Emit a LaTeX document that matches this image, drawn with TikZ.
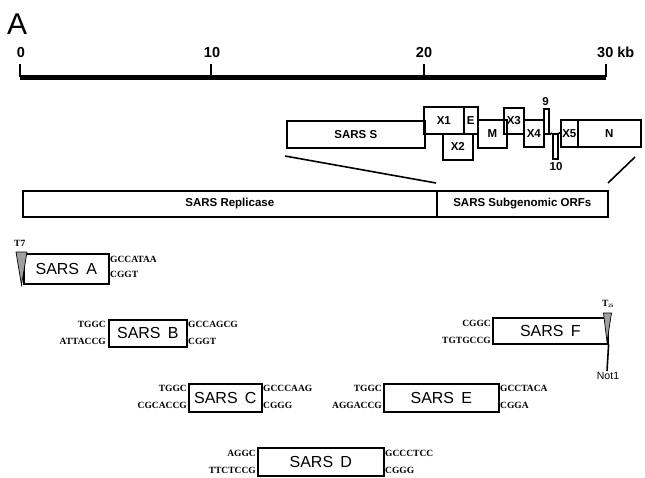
\documentclass[tikz,border=0pt]{standalone}
\usepackage{fontspec}
\setmainfont{Liberation Sans}
\newfontfamily\seqfont{Liberation Serif}
\begin{document}
\begin{tikzpicture}[x=1pt,y=-1pt,
  gbox/.style={draw, line width=1.6pt, inner sep=0pt, anchor=north west, font=\bfseries\fontsize{11.5}{11.5}\selectfont},
  fbox/.style={draw, line width=1.6pt, inner sep=0pt, anchor=north west, font=\fontsize{16}{16}\selectfont},
  seq/.style={inner sep=0pt, font=\seqfont\bfseries\fontsize{9.5}{9.5}\selectfont},
  seqL/.style={seq, anchor=east},
  seqR/.style={seq, anchor=west},
  scalelab/.style={inner sep=0pt, anchor=base, font=\bfseries\fontsize{14.5}{14.5}\selectfont},
  zline/.style={line width=1.6pt},
  tri/.style={draw, line width=0.7pt, fill=gray!75}
]
\useasboundingbox (0,0) rectangle (645,477);

% panel label
\node[inner sep=0pt, anchor=base west, font=\fontsize{30}{30}\selectfont] (lblA) at (7,34) {A};

% scale bar
\coordinate (b0) at (20,77);
\coordinate (b10) at (211,77);
\coordinate (b20) at (424,77);
\coordinate (b30) at (606,77);
\coordinate (t0) at (20,64);
\coordinate (t10) at (211,64);
\coordinate (t20) at (424,64);
\coordinate (t30) at (606,64);
\draw[line width=5pt] (b0) -- (b30);
\draw[line width=1.6pt] (b0) -- (t0) (b10) -- (t10) (b20) -- (t20) (b30) -- (t30);
\node[scalelab] (s0) at (21,57) {0};
\node[scalelab] (s10) at (212,57) {10};
\node[scalelab] (s20) at (424,57) {20};
\node[scalelab, anchor=base west] (s30) at (597,57) {30 kb};

% gene boxes
\node[gbox, minimum width=138pt, minimum height=27pt] (S) at (286,120) {SARS S};
\node[gbox, minimum width=40pt, minimum height=27pt] (X1) at (423,106) {X1};
\node[gbox, minimum width=14pt, minimum height=27pt] (E) at (463,106) {E};
\node[gbox, minimum width=30pt, minimum height=26pt] (X2) at (442,133) {X2};
\node[gbox, minimum width=29pt, minimum height=28pt] (M) at (477,119) {M};
\node[gbox, minimum width=20pt, minimum height=26pt] (X3) at (503,107) {X3};
\node[gbox, minimum width=20pt, minimum height=27pt] (X4) at (523,119) {X4};
\node[gbox, minimum width=5pt, minimum height=25pt] (G9) at (543,108) {};
\node[gbox, minimum width=5pt, minimum height=25pt] (G10) at (552,133) {};
\node[gbox, minimum width=17pt, minimum height=27pt] (X5) at (560,119) {X5};
\node[gbox, minimum width=63pt, minimum height=27pt] (N) at (577,119) {N};
\node[inner sep=0pt, anchor=base, font=\bfseries\fontsize{11.5}{11.5}\selectfont] (l9) at (545.5,105) {9};
\node[inner sep=0pt, anchor=base, font=\bfseries\fontsize{11.5}{11.5}\selectfont] (l10) at (556,170) {10};
\draw[line width=1.6pt] (G9.south east) -- (G10.north west) (G10.north east) -- (X5.west |- G10.north);

% genome bar
\node[gbox, minimum width=414pt, minimum height=26pt] (Rep) at (22,190) {SARS Replicase};
\node[gbox, minimum width=171pt, minimum height=26pt] (Sub) at (436,190) {SARS Subgenomic ORFs};

% zoom lines
\coordinate (zl1) at (285,156);
\coordinate (zl2) at (436,183);
\coordinate (zr1) at (635,157);
\coordinate (zr2) at (608,183);
\draw[zline] (zl1) -- (zl2);
\draw[zline] (zr1) -- (zr2);

% fragment A
\node[fbox, minimum width=85pt, minimum height=30pt] (A) at (23,253) {SARS\hspace{0.45em}A};
\draw[tri] (16,252) -- (27,252) -- (21.5,285) -- cycle;
\node[seq, anchor=base west] (T7) at (14,246) {T7};
\node[seqR] (Ar1) at (110,259) {GCCATAA};
\node[seqR] (Ar2) at (110,274) {CGGT};

% fragment B
\node[fbox, minimum width=78pt, minimum height=27pt] (B) at (108,319) {SARS\hspace{0.45em}B};
\node[seqL] (Bl1) at (106,324) {TGGC};
\node[seqL] (Bl2) at (106,341) {ATTACCG};
\node[seqR] (Br1) at (188,324) {GCCAGCG};
\node[seqR] (Br2) at (188,341) {CGGT};

% fragment C
\node[fbox, minimum width=73pt, minimum height=28pt] (C) at (188,383) {SARS\hspace{0.45em}C};
\node[seqL] (Cl1) at (187,388) {TGGC};
\node[seqL] (Cl2) at (187,405) {CGCACCG};
\node[seqR] (Cr1) at (263,388) {GCCCAAG};
\node[seqR] (Cr2) at (263,405) {CGGG};

% fragment E
\node[fbox, minimum width=115pt, minimum height=28pt] (Ef) at (383,383) {SARS\hspace{0.45em}E};
\node[seqL] (El1) at (382,388) {TGGC};
\node[seqL] (El2) at (382,405) {AGGACCG};
\node[seqR] (Er1) at (500,388) {GCCTACA};
\node[seqR] (Er2) at (500,405) {CGGA};

% fragment D
\node[fbox, minimum width=126pt, minimum height=28pt] (D) at (257,447) {SARS\hspace{0.45em}D};
\node[seqL] (Dl1) at (256,453) {AGGC};
\node[seqL] (Dl2) at (256,470) {TTCTCCG};
\node[seqR] (Dr1) at (385,453) {GCCCTCC};
\node[seqR] (Dr2) at (385,470) {CGGG};

% fragment F
\node[fbox, minimum width=115pt, minimum height=26pt] (F) at (492,317) {SARS\hspace{0.45em}F};
\node[seqL] (Fl1) at (491,323) {CGGC};
\node[seqL] (Fl2) at (491,340) {TGTGCCG};
\draw[tri] (603.5,313) -- (611.5,313) -- (607,342) -- cycle;
\node[inner sep=0pt, anchor=base, font=\seqfont\bfseries\fontsize{9.5}{9.5}\selectfont] (T25) at (608,306) {T\textsubscript{\fontsize{5}{5}\selectfont 25}};
\coordinate (notend) at (607,371);
\draw[line width=1.6pt] (F.south east) -- (notend);
\node[inner sep=0pt, anchor=north, font=\fontsize{10.5}{10.5}\selectfont] (Not) at (608,372) {Not1};
\end{tikzpicture}
\end{document}
